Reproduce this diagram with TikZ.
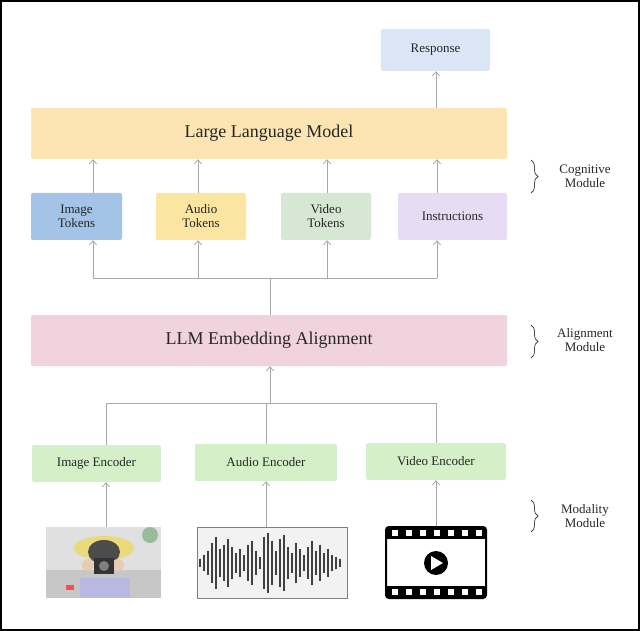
\documentclass[tikz,border=0pt]{standalone}
\usepackage{fontspec}
\setmainfont{Liberation Serif}
\usetikzlibrary{arrows.meta,decorations.pathreplacing}
\definecolor{respC}{HTML}{DAE6F5}
\definecolor{llmC}{HTML}{FDE5B3}
\definecolor{imgC}{HTML}{A3C4E6}
\definecolor{audC}{HTML}{FBE5A0}
\definecolor{vidC}{HTML}{D6E8D3}
\definecolor{insC}{HTML}{E8DCF5}
\definecolor{alnC}{HTML}{F0D3DD}
\definecolor{encC}{HTML}{D5F0C8}
\definecolor{lineC}{HTML}{A8A8A8}
\begin{document}
\begin{tikzpicture}[x=1pt,y=-1pt,
  box/.style={rounded corners=2pt, inner sep=0pt, align=center, font=\fontsize{13}{14}\selectfont, text=black!85},
  conn/.style={draw=lineC, thick, -{Straight Barb[length=4pt,width=7pt]}},
  wire/.style={draw=lineC, thick},
  brace/.style={decorate, decoration={brace, amplitude=7pt}, draw=black!70, thick},
  lbl/.style={align=center, font=\fontsize{13}{14}\selectfont, text=black!85}
  ]
\useasboundingbox (0,0) rectangle (640,631);
\draw[black, line width=1.5pt] (1,1) rectangle (639,630);

% Cognitive module
\node[box, fill=respC, minimum width=109, minimum height=42] (resp) at (435.5,50) {Response};
\node[box, fill=llmC, minimum width=476, minimum height=51, font=\fontsize{18}{19}\selectfont] (llm) at (269,133.5) {Large Language Model};
\node[box, fill=imgC, minimum width=91, minimum height=47] (imgt) at (76.5,216.5) {Image\\Tokens};
\node[box, fill=audC, minimum width=90, minimum height=47] (audt) at (201,216.5) {Audio\\Tokens};
\node[box, fill=vidC, minimum width=90, minimum height=47] (vidt) at (326,216.5) {Video\\Tokens};
\node[box, fill=insC, minimum width=109, minimum height=47] (inst) at (452.5,216.5) {Instructions};

\draw[conn] (imgt.north -| 93,0) -- (llm.south -| 93,0);
\draw[conn] (audt.north -| 198,0) -- (llm.south -| 198,0);
\draw[conn] (vidt.north -| 327,0) -- (llm.south -| 327,0);
\draw[conn] (inst.north -| 437,0) -- (llm.south -| 437,0);
\draw[conn] (llm.north -| 436,0) -- (resp.south -| 436,0);

% Alignment module
\node[box, fill=alnC, minimum width=476, minimum height=51, font=\fontsize{18}{19}\selectfont] (aln) at (269,340.5) {LLM Embedding Alignment};
\coordinate (bus1) at (270,278);
\draw[wire] (aln.north -| bus1) -- (bus1);
\draw[wire] (93,278) -- (437,278);
\draw[conn] (93,278) -- (imgt.south -| 93,0);
\draw[conn] (198,278) -- (audt.south -| 198,0);
\draw[conn] (327,278) -- (vidt.south -| 327,0);
\draw[conn] (437,278) -- (inst.south -| 437,0);

% Modality module
\node[box, fill=encC, minimum width=129, minimum height=37] (imge) at (96.5,463.5) {Image Encoder};
\node[box, fill=encC, minimum width=142, minimum height=37] (aude) at (266,462.5) {Audio Encoder};
\node[box, fill=encC, minimum width=140, minimum height=37] (vide) at (436,461.5) {Video Encoder};
\coordinate (bus2) at (270,403);
\draw[conn] (bus2) -- (aln.south -| bus2);
\draw[wire] (106,403) -- (436,403);
\draw[wire] (106,403) -- (imge.north -| 106,0);
\draw[wire] (266,403) -- (aude.north -| 266,0);
\draw[wire] (436,403) -- (vide.north -| 436,0);

% photo
\node[inner sep=0pt, minimum width=115, minimum height=71] (photo) at (103.5,562.5) {};
\fill[black!12] (46,527) rectangle (161,598);
\fill[black!22] (46,570) rectangle (161,598);
\fill[green!35!black!40] (150,535) circle (8);
\fill[brown!50!yellow!60] (104,548) ellipse (30 and 12);
\fill[black!70] (104,552) ellipse (16 and 12);
\fill[brown!40!white] (88,565) circle (6);
\fill[brown!40!white] (118,565) circle (6);
\fill[black!80] (94,558) rectangle (114,574);
\fill[black!50] (104,566) circle (5);
\fill[gray!60!blue!40] (80,578) rectangle (130,598);
\fill[red!70] (66,585) rectangle (74,590);

% audio waveform
\node[draw=black!50, fill=black!5, inner sep=0pt, minimum width=150, minimum height=71] (wave) at (272,562.5) {};
\foreach \x/\h in {200/4,204/8,208/12,212/20,216/26,220/14,224/18,228/24,232/16,236/10,240/14,244/8,248/18,252/22,256/12,260/6,264/26,268/30,272/22,276/12,280/24,284/28,288/16,292/10,296/20,300/14,304/8,308/16,312/22,316/12,320/18,324/10,328/14,332/8,336/6,340/4}
  \draw[black!75, line width=1.6pt] (\x,562.5-\h) -- (\x,562.5+\h);

% video icon
\node[draw=black, fill=white, line width=2pt, rounded corners=3pt, inner sep=0pt, minimum width=100, minimum height=71] (film) at (436,562.5) {};
\fill[black] (386,527) rectangle (486,539);
\fill[black] (386,586) rectangle (486,598);
\foreach \x in {392,406,420,434,448,462,476}
  { \fill[white] (\x,530) rectangle (\x+6,536); \fill[white] (\x,589) rectangle (\x+6,595); }
\fill[black] (436,563) circle (12);
\fill[white] (431,556) -- (443,563) -- (431,570) -- cycle;

\draw[conn] (photo.north -| 106,0) -- (imge.south -| 106,0);
\draw[conn] (wave.north -| 266,0) -- (aude.south -| 266,0);
\draw[conn] (film.north -| 436,0) -- (vide.south -| 436,0);

% braces
\draw[brace] (531,160) -- (531,193);
\node[lbl] (cogl) at (585,176) {Cognitive\\Module};
\draw[brace] (531,325) -- (531,358);
\node[lbl] (alnl) at (585,340) {Alignment\\Module};
\draw[brace] (531,500) -- (531,532);
\node[lbl] (modl) at (585,516) {Modality\\Module};
\end{tikzpicture}
\end{document}
